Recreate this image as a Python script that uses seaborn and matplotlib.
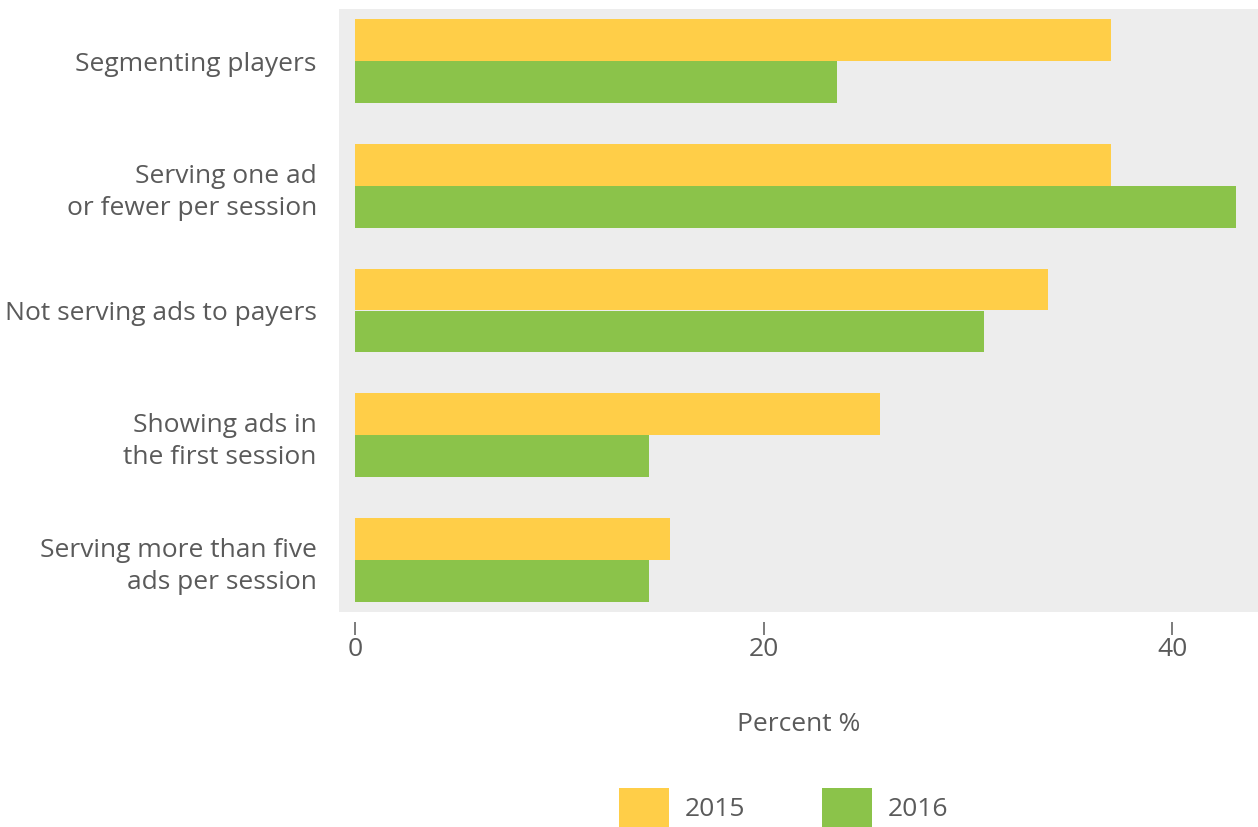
import matplotlib
matplotlib.use("Agg")
import matplotlib.pyplot as plt
from matplotlib.patches import Patch
import seaborn as sns
import pandas as pd

categories = [
    "Segmenting players",
    "Serving one ad\nor fewer per session",
    "Not serving ads to payers",
    "Showing ads in\nthe first session",
    "Serving more than five\nads per session",
]
years = ["2015", "2016"]
values_2015 = [37.0, 37.0, 33.9, 25.7, 15.4]
values_2016 = [23.6, 43.1, 30.8, 14.4, 14.4]
x_ticks = [0, 20, 40]

colors = {"2015": "#FFCE48", "2016": "#8BC34A"}
text_color = "#5a5a5a"
font_size = 19

df = pd.DataFrame({
    "Practice": categories * 2,
    "Year": ["2015"] * len(categories) + ["2016"] * len(categories),
    "Percent": values_2015 + values_2016,
})

sns.set_theme(style="white")
plt.rcParams["font.family"] = ["Open Sans", "DejaVu Sans"]

W, H = 1258, 827
fig = plt.figure(figsize=(W / 100, H / 100), dpi=100)
ax = fig.add_axes([339 / W, 1 - 612 / H, (1258 - 339) / W, (612 - 9) / H])
ax.set_facecolor("#EDEDED")

sns.barplot(
    data=df, y="Practice", x="Percent", hue="Year", order=categories,
    hue_order=years, palette=colors, orient="h", width=0.673,
    saturation=1, legend=False, ax=ax, linewidth=0,
)

ax.set_xlim(-0.78, 44.2)
ax.set_ylim(4.417, -0.417)
ax.set_xticks(x_ticks)
ax.set_xticklabels([str(t) for t in x_ticks])

for side in ["top", "right", "left", "bottom"]:
    ax.spines[side].set_visible(False)
ax.spines["bottom"].set_position(("outward", 7))

ax.tick_params(axis="x", length=9, width=1.2, color="#666666",
               labelsize=font_size, labelcolor=text_color, pad=2,
               direction="out", bottom=True)
ax.tick_params(axis="y", length=0, labelsize=font_size, labelcolor=text_color,
               pad=16)
for lbl in ax.get_yticklabels():
    lbl.set_horizontalalignment("right")
    lbl.set_multialignment("right")
    lbl.set_linespacing(1.38)
    lbl.set_y(lbl.get_position()[1])

ax.set_ylabel("")
ax.set_xlabel("Percent %", fontsize=font_size, color=text_color, labelpad=36)

handles = [Patch(facecolor=colors[y], edgecolor="none", label=y) for y in years]
leg = fig.legend(
    handles=handles, loc="lower center", bbox_to_anchor=(783.5 / W, 0.0),
    ncol=2, frameon=False, fontsize=font_size, handlelength=1.9,
    handleheight=1.9, handletextpad=0.6, columnspacing=2.9, borderpad=0.0,
    borderaxespad=0.0,
)
for t in leg.get_texts():
    t.set_color(text_color)

fig.savefig("out.png", dpi=100)
